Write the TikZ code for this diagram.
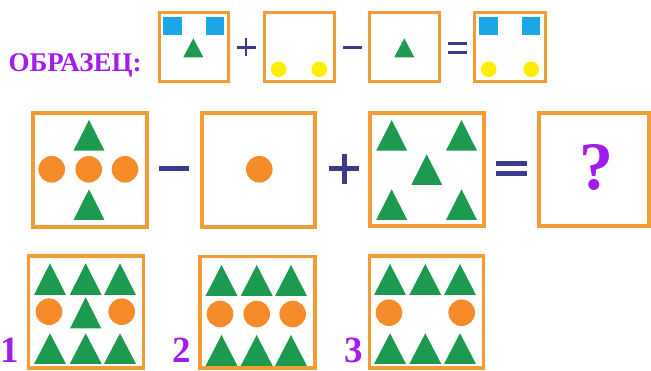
\documentclass[tikz,border=0pt]{standalone}
\usepackage{fontspec}
\setmainfont{Liberation Serif}
\definecolor{bordo}{HTML}{F29C36}
\definecolor{circo}{HTML}{F68B29}
\definecolor{trig}{HTML}{1C9B50}
\definecolor{sqb}{HTML}{1CA8E8}
\definecolor{yel}{HTML}{FFEE00}
\definecolor{opn}{HTML}{3B3A8E}
\definecolor{purp}{HTML}{A21CF0}
\newcommand\mytri[4]{\fill[trig] (#1,#2) -- ({#1-#3},#4) -- ({#1+#3},#4) -- cycle;}
\newcommand\mycirc[3]{\fill[circo] (#1,#2) circle[radius=#3];}
\newcommand\myyel[2]{\fill[yel] (#1,#2) circle[radius=7.8];}
\newcommand\mysq[2]{\fill[sqb] (#1,#2) rectangle ({#1+18.5},{#2+18.5});}
\begin{document}
\begin{tikzpicture}[x=1pt,y=-1pt,
  tbox/.style={draw=bordo,line width=3pt},
  mbox/.style={draw=bordo,line width=4pt},
  bbox/.style={draw=bordo,line width=3.5pt},
  opline/.style={draw=opn,line width=#1},
  lab/.style={text=purp,font=\bfseries\fontsize{37}{40}\selectfont,inner sep=0pt,anchor=base}]
\useasboundingbox[fill=white] (0,0) rectangle (651,371);

% ---- top row (sample) ----
\node[text=purp,font=\bfseries\fontsize{27}{30}\selectfont,inner sep=0pt,anchor=base] (obr) at (75,71.7) {ОБРАЗЕЦ:};

\draw[tbox] (159,13) rectangle (228,82);
\mysq{163}{17}\mysq{205.5}{17}
\mytri{193.3}{38.3}{10}{57.3}

\draw[opline=2.8pt] (236.5,47.3) -- (255.5,47.3) (246,38) -- (246,56.5);

\draw[tbox] (264,13) rectangle (334,82);
\myyel{278.7}{69.3}\myyel{319.3}{69.3}

\draw[opline=3pt] (343,47.3) -- (362,47.3);

\draw[tbox] (369,13) rectangle (439,82);
\mytri{404.3}{38.3}{10}{57.3}

\draw[opline=3pt] (448,43.5) -- (467,43.5) (448,52.5) -- (467,52.5);

\draw[tbox] (474,13) rectangle (545,82);
\mysq{479}{17}\mysq{521.5}{17}
\myyel{488.7}{69.3}\myyel{531.3}{69.3}

% ---- middle row (task) ----
\draw[mbox] (33,113) rectangle (147,227);
\mytri{89}{120}{15.5}{150.7}
\mytri{89}{189.3}{15.5}{220}
\mycirc{51.7}{169.3}{13.3}\mycirc{88.7}{169.3}{13.3}\mycirc{125}{169.3}{13.3}

\draw[opline=4.5pt] (159,168.5) -- (189,168.5);

\draw[mbox] (202,113) rectangle (315,227);
\mycirc{259.3}{169.3}{13.3}

\draw[opline=5pt] (329,169) -- (359,169) (344,154) -- (344,184);

\draw[mbox] (370,113) rectangle (483.5,226.5);
\mytri{391.7}{120}{15.5}{150.7}
\mytri{461.5}{120}{15.5}{150.7}
\mytri{426.7}{154.3}{15.5}{185}
\mytri{391.7}{189.3}{15.5}{220}
\mytri{461.5}{189.3}{15.5}{220}

\draw[opline=5pt] (496,163.5) -- (527,163.5) (496,174) -- (527,174);

\draw[mbox] (539,113) rectangle (649,226.5);
\node[text=purp,font=\bfseries\fontsize{68}{70}\selectfont,inner sep=0pt] (q) at (596.7,167) {?};

% ---- bottom row (answers) ----
\draw[bbox] (28.5,256) rectangle (143.3,368);
\mytri{50}{263.3}{16}{295}\mytri{85.7}{263.3}{16}{295}\mytri{120}{263.3}{16}{295}
\mycirc{49}{311.7}{13.3}\mytri{85.7}{297.3}{15.5}{328.3}\mycirc{121.7}{311.7}{13.3}
\mytri{50}{333.3}{16}{364}\mytri{85.7}{333.3}{16}{364}\mytri{120}{333.3}{16}{364}
\node[lab] (l1) at (10,362.5) {1};

\draw[bbox] (200,256.7) rectangle (315,368);
\mytri{221.5}{265}{16}{296}\mytri{256.7}{265}{16}{296}\mytri{291}{265}{16}{296}
\mycirc{220}{314}{13.3}\mycirc{256.7}{314}{13.3}\mycirc{292.7}{314}{13.3}
\mytri{221.5}{335}{16}{366}\mytri{256.7}{335}{16}{366}\mytri{291}{335}{16}{366}
\node[lab] (l2) at (181.3,362.5) {2};

\draw[bbox] (369.3,256) rectangle (483.3,368);
\mytri{390}{264}{16}{295}\mytri{425.3}{264}{16}{295}\mytri{460}{264}{16}{295}
\mycirc{389}{312.7}{13.3}\mycirc{461.7}{312.7}{13.3}
\mytri{390}{333.3}{16}{364}\mytri{425.3}{333.3}{16}{364}\mytri{460}{333.3}{16}{364}
\node[lab] (l3) at (354,362.5) {3};
\end{tikzpicture}
\end{document}
